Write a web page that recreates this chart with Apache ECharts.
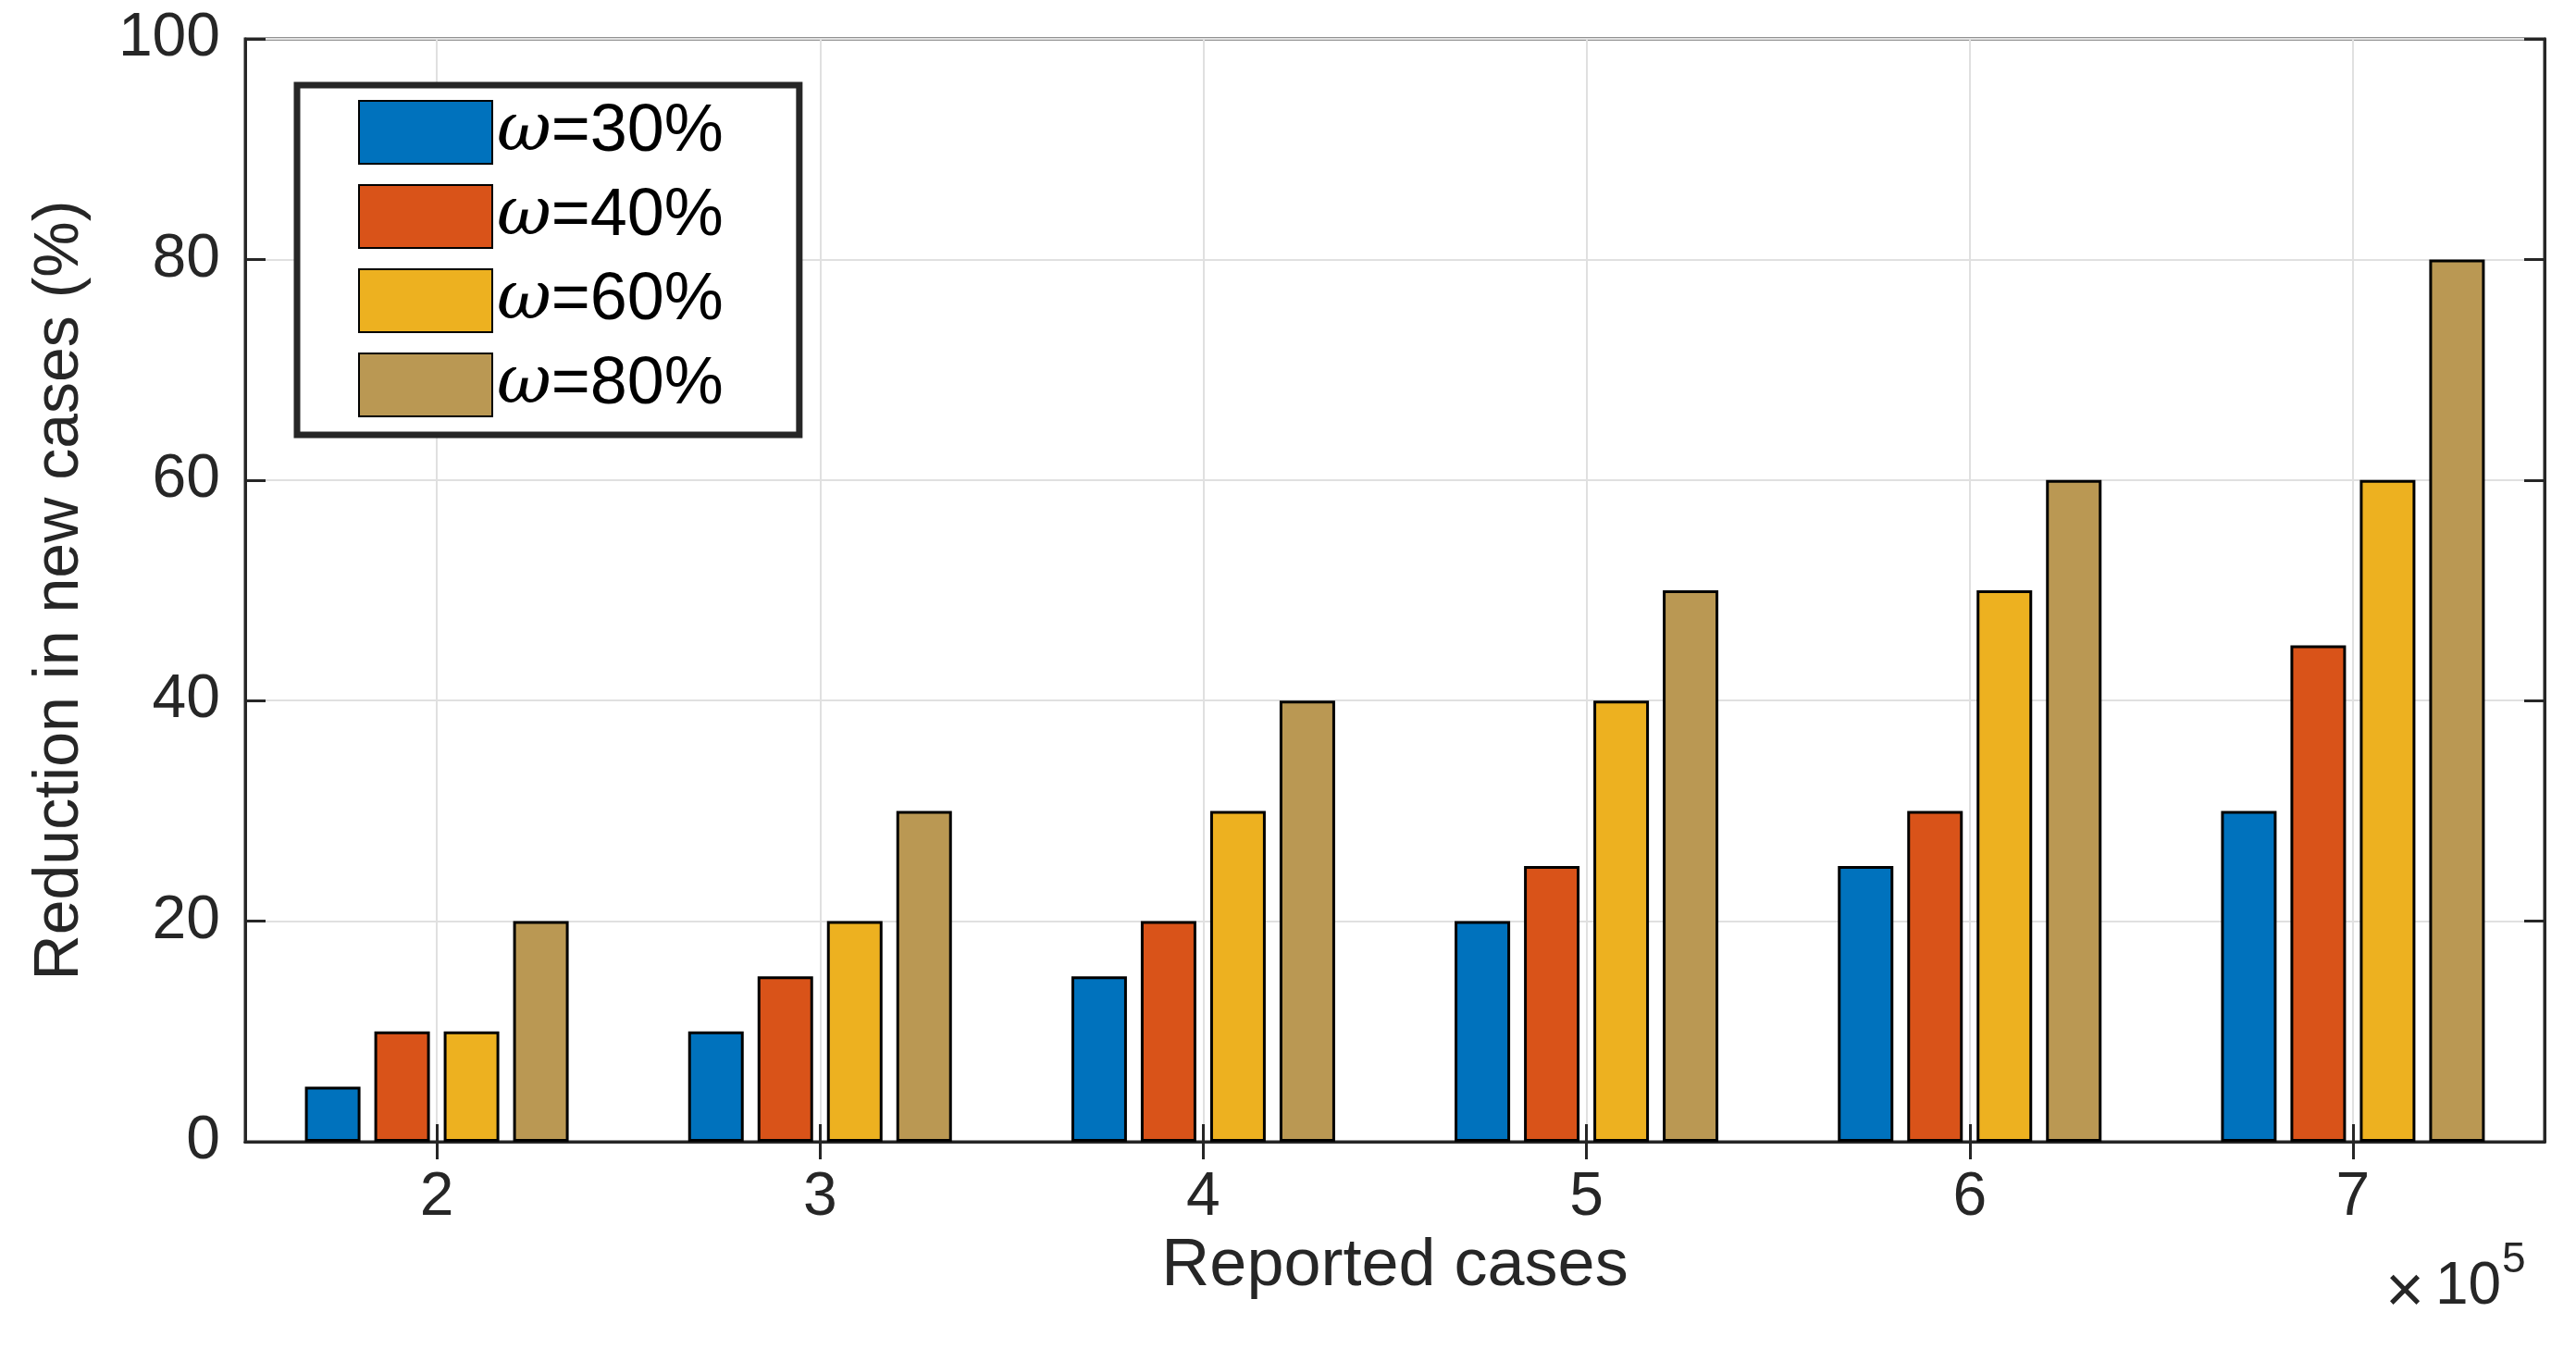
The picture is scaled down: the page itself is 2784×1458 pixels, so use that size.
<!DOCTYPE html>
<html>
<head>
<meta charset="utf-8">
<script src="https://cdn.jsdelivr.net/npm/echarts@6/dist/echarts.min.js"></script>
<style>
  html, body { margin: 0; padding: 0; background: #fff; }
  #chart { width: 2784px; height: 1458px; }
</style>
</head>
<body>
<div id="chart"></div>
<script>
// reported cases (x 10^5)
const categories = ['2', '3', '4', '5', '6', '7'];
const legendNames = ['ω=30%', 'ω=40%', 'ω=60%', 'ω=80%'];
const w30 = [5, 10, 15, 20, 25, 30];
const w40 = [10, 15, 20, 25, 30, 45];
const w60 = [10, 20, 30, 40, 50, 60];
const w80 = [20, 30, 40, 50, 60, 80];
const colors = ['#0072BD', '#D95319', '#EDB120', '#BA9853'];

const axisColor = '#262626';
const font = '"Liberation Sans", Arial, Helvetica, sans-serif';

var myChart = echarts.init(document.getElementById('chart'));

function barSeries(name, data, i) {
  return {
    name: name,
    type: 'bar',
    data: data,
    barWidth: 60,
    barGap: '25%',
    itemStyle: {
      color: colors[i],
      borderColor: '#000',
      borderWidth: 3
    }
  };
}

let option = {
  backgroundColor: '#fff',
  animation: false,
  textStyle: { fontFamily: font },
  grid: {
    left: 265, right: 34, top: 42, bottom: 224,
    show: true,
    borderColor: axisColor,
    borderWidth: 3,
    backgroundColor: '#fff'
  },
  legend: {
    orient: 'vertical',
    left: 321,
    top: 92,
    padding: [15, 82, 18, 66],
    itemWidth: 144,
    itemHeight: 68,
    itemGap: 19,
    icon: 'rect',
    backgroundColor: '#fff',
    borderColor: '#262626',
    borderWidth: 7,
    borderRadius: 0,
    data: legendNames,
    formatter: function (name) {
      return '{w|ω}' + name.slice(1);
    },
    textStyle: {
      color: '#000',
      fontSize: 72,
      fontFamily: font,
      rich: {
        w: { fontSize: 72, fontStyle: 'italic', fontFamily: '"DejaVu Serif", serif', color: '#000' }
      }
    }
  },
  xAxis: [
    {
      type: 'category',
      data: categories,
      position: 'bottom',
      name: 'Reported cases',
      nameLocation: 'middle',
      nameGap: 93,
      nameTextStyle: { fontSize: 72, color: axisColor, fontFamily: font },
      axisLine: { show: true, lineStyle: { color: axisColor, width: 3 } },
      axisTick: { show: true, inside: true, length: 19, alignWithLabel: true, lineStyle: { color: axisColor, width: 3 } },
      axisLabel: { fontSize: 66, color: axisColor, margin: 28, fontFamily: font },
      splitLine: { show: true, alignWithLabel: true, lineStyle: { color: '#e0e0e0', width: 2 } }
    },
    {
      type: 'category',
      data: categories,
      position: 'top',
      axisLine: { show: true, lineStyle: { color: axisColor, width: 3 } },
      axisTick: { show: true, inside: true, length: 19, alignWithLabel: true, lineStyle: { color: axisColor, width: 3 } },
      axisLabel: { show: false },
      splitLine: { show: false }
    }
  ],
  yAxis: [
    {
      type: 'value',
      min: 0, max: 100, interval: 20,
      position: 'left',
      name: 'Reduction in new cases (%)',
      nameLocation: 'middle',
      nameGap: 166,
      nameTextStyle: { fontSize: 68, color: axisColor, fontFamily: font },
      axisLine: { show: true, lineStyle: { color: axisColor, width: 3 } },
      axisTick: { show: true, inside: true, length: 22, lineStyle: { color: axisColor, width: 3 } },
      axisLabel: { fontSize: 66, color: axisColor, margin: 27, fontFamily: font },
      splitLine: { show: true, lineStyle: { color: '#e0e0e0', width: 2 } }
    },
    {
      type: 'value',
      min: 0, max: 100, interval: 20,
      position: 'right',
      axisLine: { show: true, lineStyle: { color: axisColor, width: 3 } },
      axisTick: { show: true, inside: true, length: 22, lineStyle: { color: axisColor, width: 3 } },
      axisLabel: { show: false },
      splitLine: { show: false }
    }
  ],
  graphic: [
    {
      type: 'text',
      x: 2578, y: 1398,
      style: { text: '×', fontSize: 72, fontFamily: font, fill: axisColor, align: 'left', verticalAlign: 'middle' }
    },
    {
      type: 'text',
      x: 2632, y: 1391,
      style: { text: '10', fontSize: 64, fontFamily: font, fill: axisColor, align: 'left', verticalAlign: 'middle' }
    },
    {
      type: 'text',
      x: 2704, y: 1362,
      style: { text: '5', fontSize: 46, fontFamily: font, fill: axisColor, align: 'left', verticalAlign: 'middle' }
    }
  ],
  series: [
    barSeries(legendNames[0], w30, 0),
    barSeries(legendNames[1], w40, 1),
    barSeries(legendNames[2], w60, 2),
    barSeries(legendNames[3], w80, 3)
  ]
};

myChart.setOption(option);
</script>
</body>
</html>
